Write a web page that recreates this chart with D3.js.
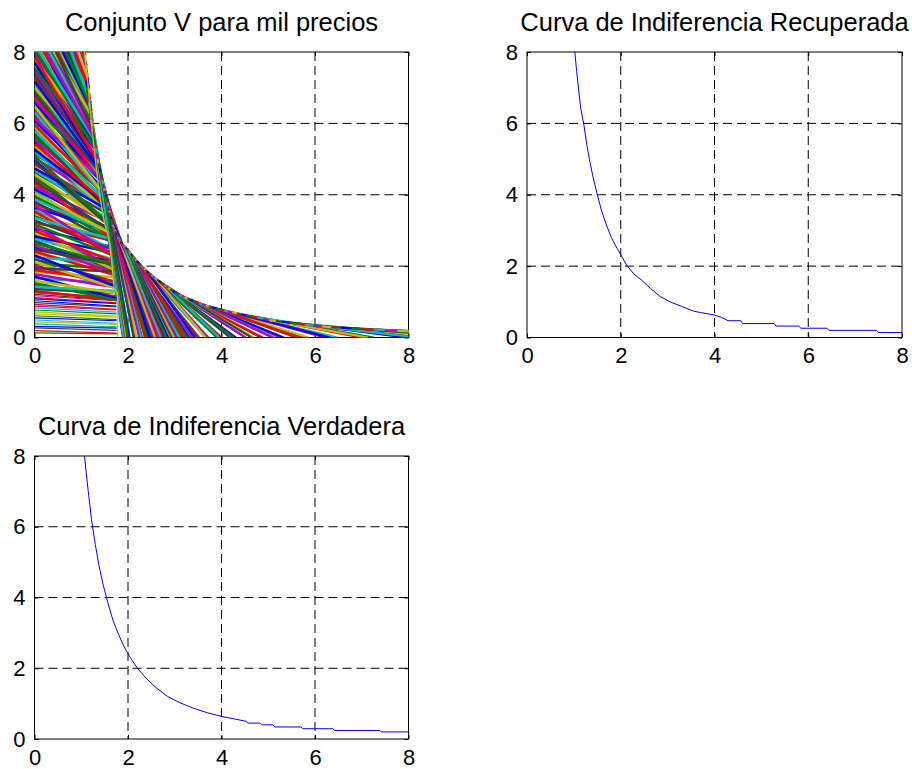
<!DOCTYPE html>
<html>
<head>
<meta charset="utf-8">
<script src="https://cdn.jsdelivr.net/npm/d3@7"></script>
<style>
  body { margin: 0; background: #fff; }
  svg { display: block; font-family: "Liberation Sans", Arial, Helvetica, sans-serif; }
</style>
</head>
<body>
<svg id="fig" width="912" height="769"></svg>
<script>
// ---- shared axis setup ----
const tickValues = [0, 2, 4, 6, 8];
const titles = [
  "Conjunto V para mil precios",
  "Curva de Indiferencia Recuperada",
  "Curva de Indiferencia Verdadera"
];
// MATLAB default line colour order
const lineColors = ["#0000ff", "#008000", "#ff0000", "#00bfbf", "#bf00bf", "#bfbf00", "#404040"];

// ---- recovered indifference curve ----
const recoveredX = [1.02,1.06,1.10,1.15,1.215,1.27,1.33,1.40,1.49,1.58,1.68,1.80,1.92,2.00,2.13,2.28,2.45,2.63,2.84,3.05,3.30,3.55,3.70,4.00,4.15,4.29,4.56,4.60,5.27,5.31,5.80,5.84,6.40,6.44,7.45,7.50,8.00];
const recoveredY = [8.00,7.45,6.95,6.40,5.95,5.45,5.00,4.55,4.05,3.60,3.20,2.80,2.50,2.32,2.02,1.78,1.60,1.38,1.15,1.00,0.87,0.74,0.70,0.63,0.56,0.47,0.47,0.39,0.39,0.32,0.32,0.26,0.26,0.20,0.20,0.14,0.14];

// ---- true indifference curve ----
const trueX = [1.07,1.10,1.15,1.22,1.30,1.38,1.47,1.57,1.68,1.80,1.92,2.05,2.20,2.40,2.60,2.85,3.10,3.40,3.70,4.00,4.30,4.53,4.56,4.82,4.86,5.10,5.14,5.70,5.74,6.38,6.42,7.38,7.42,8.00];
const trueY = [8.00,7.60,7.00,6.20,5.50,4.90,4.35,3.85,3.35,2.95,2.60,2.30,2.00,1.70,1.45,1.20,1.03,0.87,0.74,0.64,0.56,0.50,0.45,0.45,0.40,0.40,0.34,0.34,0.29,0.29,0.24,0.24,0.20,0.20];

// ---- set V: low, almost flat price lines (height at x = 0 and at the edge) ----
const bandStartY = [0.55,0.13,0.93,0.38,1.17,0.72,0.27,1.03,0.61,0.19,0.83,1.25,0.44,0.98,0.31,0.77,1.12,0.49,0.88,0.66,1.21,1.08,1.28];
const bandEndY   = [0.47,0.10,0.79,0.30,1.03,0.60,0.20,0.88,0.50,0.12,0.71,1.10,0.37,0.86,0.26,0.66,0.97,0.40,0.77,0.57,1.05,0.95,1.12];

// ---- set V: price lines leaving the vertical axis (height at x = 0, height where they stop) ----
const fanStartY = [
  1.30,1.66,2.01,2.34,2.71,3.05,3.42,3.74,4.11,4.45,4.79,5.16,5.48,5.86,6.19,6.55,6.88,7.24,7.57,7.95,8.28,8.62,8.99,9.31,9.68,10.02,10.37,10.71,11.06,11.42,
  1.47,1.83,2.19,2.52,2.88,3.22,3.58,3.93,4.27,4.63,4.97,5.31,5.68,6.02,6.36,6.72,7.06,7.41,7.75,8.11,8.45,8.81,9.14,9.50,9.85,10.19,10.54,10.90,11.24,11.58,
  1.36,1.71,2.07,2.41,2.77,3.11,3.47,3.81,4.16,4.52,4.86,5.21,5.55,5.91,6.26,6.60,6.95,7.30,7.64,7.99,8.34,8.69,9.03,9.38,9.72,10.08,10.43,10.77,11.12,11.47,
  1.53,1.89,2.24,2.58,2.94,3.28,3.64,3.98,4.33,4.69,5.03,5.38,5.73,6.08,6.43,6.78,7.12,7.47,7.82,8.17,8.51,8.86,9.21,9.56,9.90,10.25,10.60,10.95,11.30,11.63,
  1.42,1.77,2.12,2.47,2.83,3.17,3.53,3.87,4.22,4.57,4.92,5.26,5.61,5.96,6.31,6.66,7.00,7.35,7.70,8.05,8.40,8.75,9.09,9.44,9.79,10.13,10.48,10.83,11.18,11.52,
  1.59,1.94,2.30,2.64,2.99,3.35,3.69,4.04,4.39,4.74,5.09,5.43,5.79,6.13,6.48,6.83,7.18,7.53,7.87,8.22,8.57,8.92,9.27,9.61,9.96,10.31,10.66,11.01,11.35,11.69
];
const fanEndY = [
  1.05,1.52,1.43,1.95,1.88,2.51,2.31,2.95,2.66,3.31,3.12,3.77,3.55,4.21,3.98,4.66,4.42,5.03,4.86,5.52,5.31,5.89,5.74,6.33,6.12,6.78,6.57,7.19,7.01,7.62,
  1.15,1.69,1.55,2.13,1.97,2.70,2.41,3.05,2.85,3.46,3.19,3.95,3.69,4.37,4.12,4.84,4.55,5.22,4.98,5.65,5.39,6.07,5.81,6.49,6.22,6.93,6.68,7.34,7.12,7.71,
  1.25,1.09,1.93,1.74,2.17,1.93,2.80,2.61,3.03,2.80,3.66,3.48,3.89,3.66,4.53,4.34,4.76,4.52,5.39,5.20,5.62,5.39,6.25,6.07,6.48,6.25,7.12,6.93,7.35,7.12,
  1.05,1.57,2.09,1.80,1.87,2.43,2.96,2.67,2.73,3.30,3.82,3.54,3.60,4.17,4.69,4.40,4.46,5.03,5.55,5.27,5.33,5.89,6.41,6.13,6.19,6.76,7.27,6.99,7.06,7.61,
  1.30,1.40,1.37,2.03,2.36,2.27,2.24,2.90,3.21,3.13,3.10,3.76,4.08,3.99,3.96,4.63,4.94,4.86,4.82,5.49,5.81,5.72,5.69,6.35,6.67,6.58,6.55,7.21,7.53,7.44,
  1.24,1.85,1.43,2.04,2.10,2.73,2.28,2.90,2.97,3.59,3.16,3.77,3.84,4.45,4.02,4.64,4.70,5.32,4.88,5.50,5.56,6.18,5.75,6.36,6.43,7.04,6.61,7.23,7.29,7.90
];
// right-hand edge of the region reached by those lines (height -> x)
const edgeY = [0, 2.6, 3.0, 4.0, 5.0, 6.0, 7.0, 8.0, 9.0, 12.0];
const edgeX = [1.76, 1.74, 1.64, 1.49, 1.35, 1.25, 1.16, 1.08, 1.02, 0.90];

// ---- set V: price lines hanging from the upper envelope (x on envelope, x-intercept) ----
const envX = [1.02,1.10,1.22,1.35,1.52,1.68,1.80,2.00,2.25,2.50,3.00,3.50,4.00,5.00,6.00,7.00,8.00,9.00,10.00];
const envY = [8.00,7.20,6.00,5.00,4.00,3.10,2.75,2.45,2.05,1.75,1.25,0.97,0.77,0.49,0.32,0.24,0.17,0.13,0.11];
const rayStartX = [
  1.10,1.12,1.14,1.16,1.18,1.21,1.23,1.25,1.27,1.29,1.31,1.33,1.35,1.37,1.39,1.41,1.43,1.45,1.47,1.49,
  1.50,1.52,1.53,1.55,1.56,1.58,1.60,1.61,1.63,1.64,1.66,1.67,1.69,1.71,1.72,1.74,1.75,1.77,1.78,1.80,
  1.82,1.83,1.85,1.86,1.88,1.90,1.91,1.93,1.94,1.96,1.98,1.99,2.01,2.02,2.04,2.06,2.07,2.09,2.11,2.12,
  2.14,2.16,2.18,2.20,2.23,2.26,2.29,2.32,2.35,2.38,2.41,2.44,2.47,2.50,2.54,2.58,2.62,2.66,2.70,2.74,
  2.78,2.82,2.86,2.90,2.95,3.00,3.05,3.10,3.15,3.21,3.27,3.33,3.39,3.45,3.52,3.59,3.66,3.73,3.80,3.88,
  3.96,4.05,4.14,4.23,4.33,4.43,4.54,4.65,4.77,4.89,5.02,5.16,5.30,5.45,5.61,5.78,5.96,6.15,6.35,6.56,
  6.78,7.01,7.25,7.50,7.76,8.03,8.31,8.60,8.90,9.21,9.53,9.86
];
const rayEndX = [
  1.90,1.97,1.92,2.04,1.89,1.95,1.99,1.90,2.12,1.92,1.90,2.13,2.03,2.29,2.03,2.00,2.29,2.18,2.45,2.18,
  2.13,2.43,2.30,2.59,2.28,2.24,2.56,2.42,2.72,2.39,2.36,2.67,2.54,2.86,2.51,2.47,2.80,2.66,2.97,2.63,
  2.58,2.93,2.78,3.11,2.74,2.70,3.06,2.90,3.24,2.86,2.81,3.18,3.02,3.37,2.98,2.93,3.31,3.14,3.52,3.10,
  3.04,3.46,3.27,3.67,3.26,3.21,3.66,3.48,3.92,3.47,3.42,3.90,3.71,4.18,3.71,3.66,4.19,3.99,4.51,4.00,
  3.95,4.51,4.29,4.84,4.31,4.26,4.88,4.65,5.26,4.69,4.64,5.33,5.09,5.76,5.14,5.10,5.86,5.60,6.35,5.66,
  5.62,6.48,6.21,7.06,6.32,6.29,7.26,6.98,7.97,7.14,7.13,8.26,7.95,9.10,8.19,8.21,9.54,9.23,10.60,9.58,
  9.63,11.22,10.88,12.53,11.33,11.40,13.30,12.90,14.86,13.45,13.53,15.78
];

// ---- the last (yellow) line of the set, hugging its inner boundary ----
const boundaryX = [1.07,1.15,1.22,1.30,1.39,1.50,1.60,1.66,1.70,1.78,1.78];
const boundaryY = [8.0,7.0,6.0,5.0,4.0,3.2,2.7,2.0,1.4,1.2,0.0];

// ---- layout of the three subplots ----
const panels = [
  { left: 34.5, right: 408.5, top: 52,  bottom: 337.5 },
  { left: 527,  right: 902,   top: 52,  bottom: 337.5 },
  { left: 34.5, right: 408.5, top: 456, bottom: 739 }
];

const svg = d3.select("#fig");
const TICK_FONT = 22, TITLE_FONT = 25.5;

function makeAxes(p, title, id) {
  const x = d3.scaleLinear().domain([0, 8]).range([p.left, p.right]);
  const y = d3.scaleLinear().domain([0, 8]).range([p.bottom, p.top]);
  const g = svg.append("g");

  g.append("rect").attr("x", p.left).attr("y", p.top)
    .attr("width", p.right - p.left).attr("height", p.bottom - p.top)
    .attr("fill", "#fff");

  // dashed grid
  const inner = tickValues.slice(1, -1);
  g.append("g").selectAll("line").data(inner).join("line")
    .attr("x1", d => x(d)).attr("x2", d => x(d))
    .attr("y1", p.top).attr("y2", p.bottom)
    .attr("stroke", "#000").attr("stroke-width", 1).attr("stroke-dasharray", "9,5");
  g.append("g").selectAll("line").data(inner).join("line")
    .attr("y1", d => y(d)).attr("y2", d => y(d))
    .attr("x1", p.left).attr("x2", p.right)
    .attr("stroke", "#000").attr("stroke-width", 1).attr("stroke-dasharray", "9,5");

  // axes with inward ticks on all four sides
  const axes = [
    [d3.axisBottom(x), `translate(0,${p.bottom})`, true, 10],
    [d3.axisLeft(y), `translate(${p.left},0)`, true, 9],
    [d3.axisTop(x), `translate(0,${p.top})`, false, 0],
    [d3.axisRight(y), `translate(${p.right},0)`, false, 0]
  ];
  axes.forEach(([ax, tr, labelled, pad]) => {
    ax.tickValues(tickValues).tickSizeInner(-4).tickSizeOuter(0).tickPadding(pad);
    if (!labelled) ax.tickFormat("");
    const ag = g.append("g").attr("transform", tr).call(ax);
    ag.attr("font-size", TICK_FONT).attr("font-family", '"Liberation Sans", Arial, sans-serif');
    ag.select(".domain").remove();
    ag.selectAll(".tick line").attr("stroke", "#000");
    ag.selectAll("text").attr("fill", "#000");
  });

  // box
  g.append("rect").attr("x", p.left).attr("y", p.top)
    .attr("width", p.right - p.left).attr("height", p.bottom - p.top)
    .attr("fill", "none").attr("stroke", "#000").attr("stroke-width", 1);

  g.append("text").attr("x", (p.left + p.right) / 2).attr("y", p.top - 21)
    .attr("text-anchor", "middle").attr("font-size", TITLE_FONT).attr("fill", "#000")
    .text(title);

  svg.append("clipPath").attr("id", id).append("rect")
    .attr("x", p.left).attr("y", p.top)
    .attr("width", p.right - p.left).attr("height", p.bottom - p.top);
  const plot = svg.append("g").attr("clip-path", `url(#${id})`);
  return { x, y, plot };
}

// ---- panel 1: set V ----
{
  const { x, y, plot } = makeAxes(panels[0], titles[0], "clip1");
  const line = d3.line().x(d => x(d[0])).y(d => y(d[1]));
  const edge = d3.scaleLinear().domain(edgeY).range(edgeX);
  const env = d3.scaleLinear().domain(envX).range(envY);

  const segs = [];
  bandStartY.forEach((a, i) => segs.push({ pts: [[0, a], [edge(bandEndY[i]), bandEndY[i]]], w: 1.2 }));
  fanStartY.forEach((a, i) => segs.push({ pts: [[0, a], [edge(fanEndY[i]), fanEndY[i]]], w: 2.6 }));
  rayStartX.forEach((s, i) => segs.push({ pts: [[s, env(s)], [rayEndX[i], 0]], w: 2.1 }));

  plot.selectAll("path.v").data(segs).join("path")
    .attr("class", "v")
    .attr("d", d => line(d.pts))
    .attr("fill", "none")
    .attr("stroke", (d, i) => lineColors[i % lineColors.length])
    .attr("stroke-width", d => d.w);

  plot.append("path")
    .attr("d", line(boundaryX.map((v, i) => [v, boundaryY[i]])))
    .attr("fill", "none").attr("stroke", "#c8c800").attr("stroke-width", 1.3);
}

// ---- panel 2: recovered curve ----
{
  const { x, y, plot } = makeAxes(panels[1], titles[1], "clip2");
  const line = d3.line().x(d => x(d[0])).y(d => y(d[1]));
  plot.append("path")
    .attr("d", line(recoveredX.map((v, i) => [v, recoveredY[i]])))
    .attr("fill", "none").attr("stroke", "#0000ff").attr("stroke-width", 1);
}

// ---- panel 3: true curve ----
{
  const { x, y, plot } = makeAxes(panels[2], titles[2], "clip3");
  const line = d3.line().x(d => x(d[0])).y(d => y(d[1]));
  plot.append("path")
    .attr("d", line(trueX.map((v, i) => [v, trueY[i]])))
    .attr("fill", "none").attr("stroke", "#0000ff").attr("stroke-width", 1);
}
</script>
</body>
</html>
